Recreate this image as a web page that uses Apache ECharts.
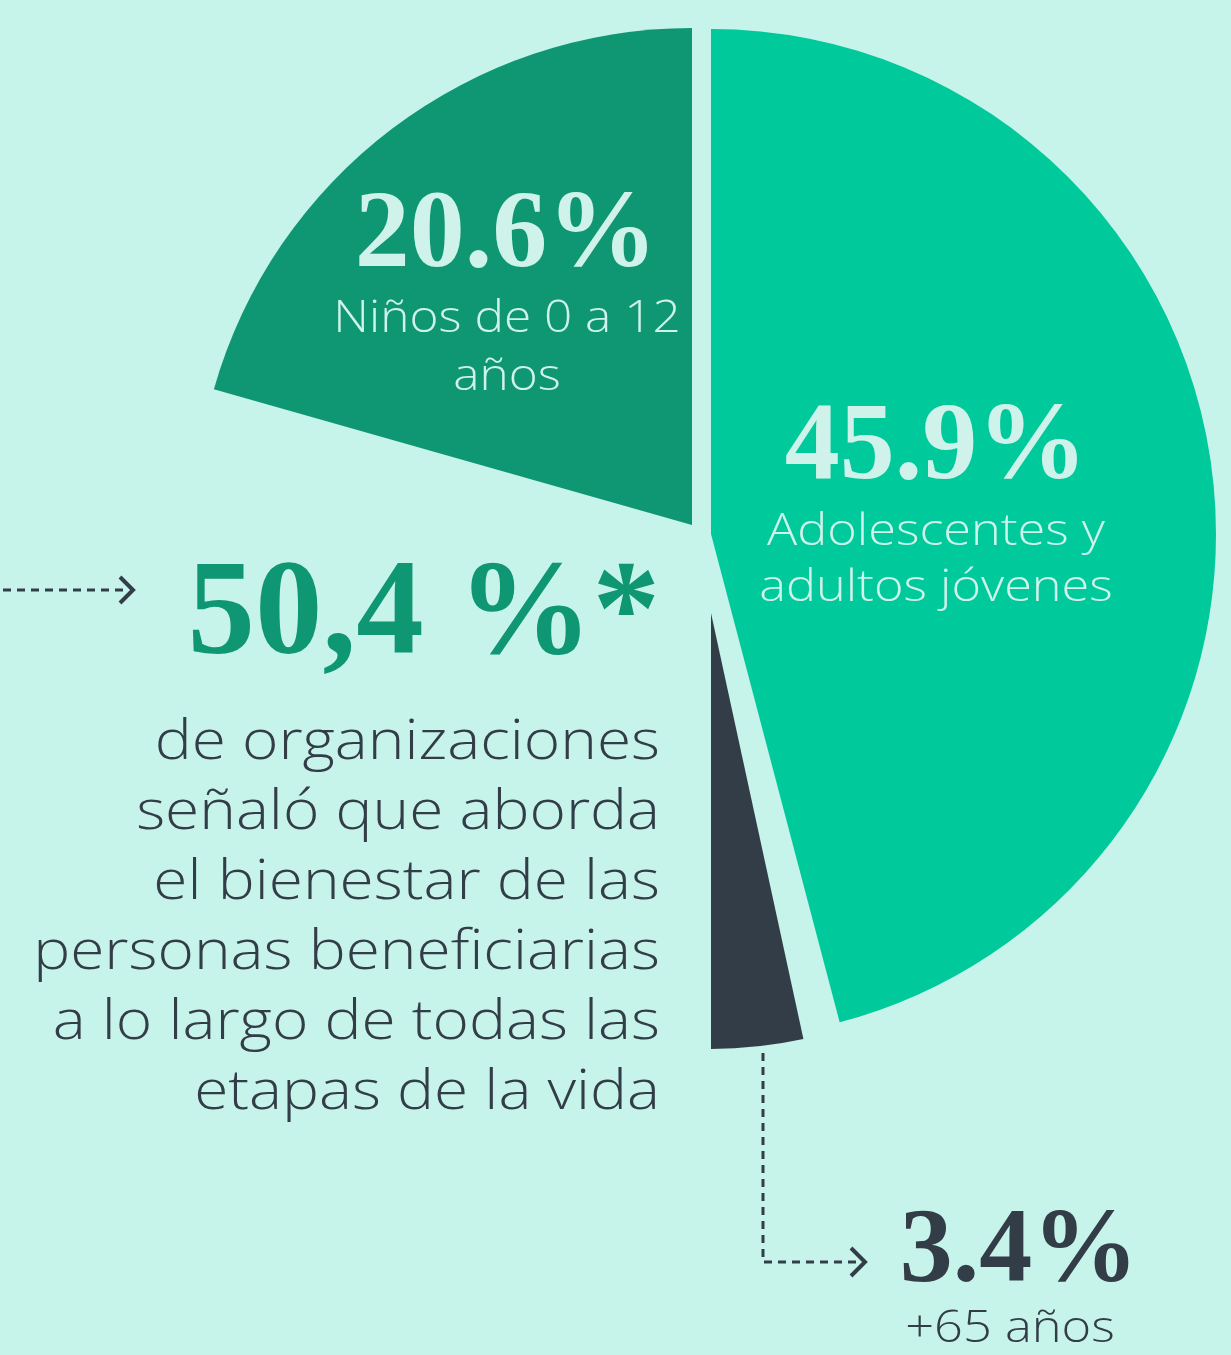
<!DOCTYPE html>
<html>
<head>
<meta charset="utf-8">
<script src="https://cdn.jsdelivr.net/npm/echarts@6/dist/echarts.min.js"></script>
<style>
  html, body { margin: 0; padding: 0; background: #c6f4ea; }
  #main { width: 1231px; height: 1355px; }
</style>
</head>
<body>
<div id="main"></div>
<script>
// datos del gráfico
const categories = ['Adolescentes y\nadultos jóvenes', '+65 años', 'Niños de 0 a 12\naños']
const values = [45.9, 3.4, 20.6]
const pctLabels = ['45.9%', '3.4%', '20.6%']
const allStagesPct = '50,4 %*'
const allStagesText = [
  'de organizaciones',
  'señaló que aborda',
  'el bienestar de las',
  'personas beneficiarias',
  'a lo largo de todas las',
  'etapas de la vida'
]

const chart = echarts.init(document.getElementById('main'))

const colors = ['#00c99b', '#333d47', '#0f9673']
const light = '#cff3ea'
const dark = '#333d47'
const serif = '"Liberation Serif", "DejaVu Serif", serif'
const sans = '"Open Sans", Lato, sans-serif'

// cada porción es una serie con su propio centro (porciones separadas)
function sliceSeries(i, center, radius, startAngle) {
  return {
    type: 'pie',
    center: center,
    radius: radius,
    startAngle: startAngle,
    clockwise: true,
    silent: true,
    animation: false,
    z: 1,
    label: { show: false },
    labelLine: { show: false },
    emphasis: { disabled: true },
    data: [
      { name: categories[i], value: values[i], itemStyle: { color: colors[i] } },
      { name: '', value: 100 - values[i], itemStyle: { color: 'transparent' } }
    ]
  }
}

// texto con escala horizontal (la fuente original es más ancha)
function txt(text, x, y, align, font, fill, lineHeight, vAlign, sx) {
  return {
    type: 'text',
    z: 100,
    x: x,
    y: y,
    scaleX: sx || 1,
    style: {
      text: text, x: 0, y: 0,
      textAlign: align, textVerticalAlign: vAlign || 'middle',
      font: font, fill: fill, lineHeight: lineHeight
    }
  }
}

const option = {
  backgroundColor: '#c6f4ea',
  series: [
    sliceSeries(0, [711, 534], 505, 90),
    sliceSeries(1, [711, 613], 436, -90 + values[1] * 3.6),
    sliceSeries(2, [692, 525], 497, 90 + values[2] * 3.6)
  ],
  graphic: [
    // 20.6%
    txt(pctLabels[2], 506, 238, 'center', 'bold 110px ' + serif, light),
    txt(categories[2], 507, 290, 'center', '300 45px ' + sans, light, 58, 'top', 1.1),
    // 45.9%
    txt(pctLabels[0], 936, 450, 'center', 'bold 110px ' + serif, light),
    txt(categories[0], 936, 504, 'center', '300 45px ' + sans, light, 56, 'top', 1.12),
    // 3.4%
    txt(pctLabels[1], 1019, 1254, 'center', 'bold 106px ' + serif, dark),
    txt(categories[1], 1010, 1304, 'center', '300 44px ' + sans, dark, 50, 'top', 1.15),
    // 50,4 %*
    txt(allStagesPct, 660, 618, 'right', 'bold 135px ' + serif, '#0f9673'),
    txt(allStagesText.join('\n'), 660, 708, 'right', '300 56px ' + sans, dark, 70, 'top', 1.11),
    // flechas
    { type: 'polyline', z: 100, shape: { points: [[3, 590], [128, 590]] }, style: { stroke: dark, lineWidth: 3, lineDash: [8, 6], fill: null } },
    { type: 'polyline', z: 100, shape: { points: [[120, 577], [133, 590], [120, 603]] }, style: { stroke: dark, lineWidth: 4, fill: null } },
    { type: 'polyline', z: 100, shape: { points: [[763, 1053], [763, 1262], [858, 1262]] }, style: { stroke: dark, lineWidth: 3, lineDash: [8, 6], fill: null } },
    { type: 'polyline', z: 100, shape: { points: [[851, 1248], [865, 1262], [851, 1276]] }, style: { stroke: dark, lineWidth: 4, fill: null } }
  ]
}

chart.setOption(option)
window.addEventListener('resize', () => { chart.resize() })
</script>
</body>
</html>
